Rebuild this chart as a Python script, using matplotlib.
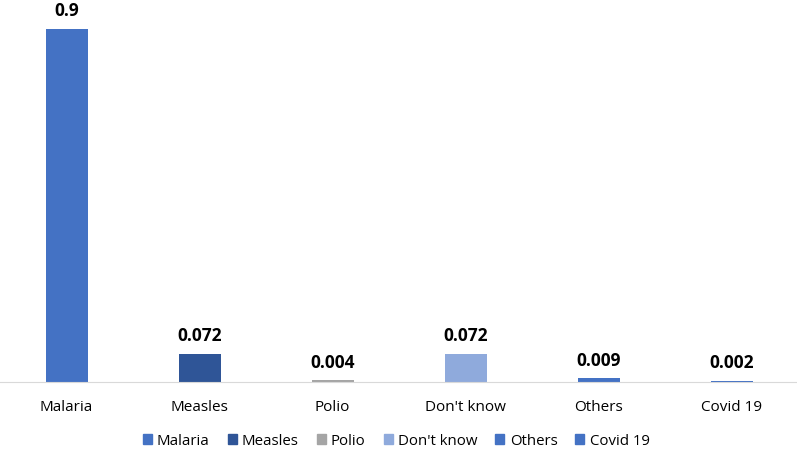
import matplotlib.pyplot as plt
from matplotlib.patches import Patch

categories = ["Malaria", "Measles", "Polio", "Don't know", "Others", "Covid 19"]
values = [0.9, 0.072, 0.004, 0.072, 0.009, 0.002]
labels = ["0.9", "0.072", "0.004", "0.072", "0.009", "0.002"]
colors = ["#4472C4", "#2F5597", "#A5A5A5", "#8FAADC", "#4472C4", "#4472C4"]

plt.rcParams['font.family'] = ['Open Sans', 'DejaVu Sans']

fig = plt.figure(figsize=(7.97, 4.56), dpi=100)
# axes: bottom at y=383px, top at y=0
ax = fig.add_axes([0, (456 - 383) / 456, 1, 383 / 456])
x = list(range(len(categories)))
ax.bar(x, values, width=0.316, color=colors, zorder=2)

for xi, v, lab in zip(x, values, labels):
    ax.annotate(lab, (xi, v), xytext=(0, 7), textcoords='offset points',
                ha='center', va='bottom', fontsize=12.5, fontweight='bold')

ax.set_xlim(-0.5, 5.49)
ax.set_ylim(0, 0.9 * 383 / 353)
ax.set_xticks(x)
ax.set_xticklabels(categories, fontsize=11)
ax.tick_params(axis='x', length=0, pad=12)
ax.set_yticks([])
for s in ['top', 'right', 'left']:
    ax.spines[s].set_visible(False)
ax.spines['bottom'].set_color('#D9D9D9')
ax.patch.set_alpha(0)

handles = [Patch(color=c, label=l) for c, l in zip(colors, categories)]
fig.legend(handles=handles, loc='center', bbox_to_anchor=(0.497, 1 - 442 / 456),
           ncol=6, frameon=False, fontsize=10.8, handlelength=0.6, handleheight=0.6,
           handletextpad=0.35, columnspacing=1.2)

fig.savefig('out.png', dpi=100)
